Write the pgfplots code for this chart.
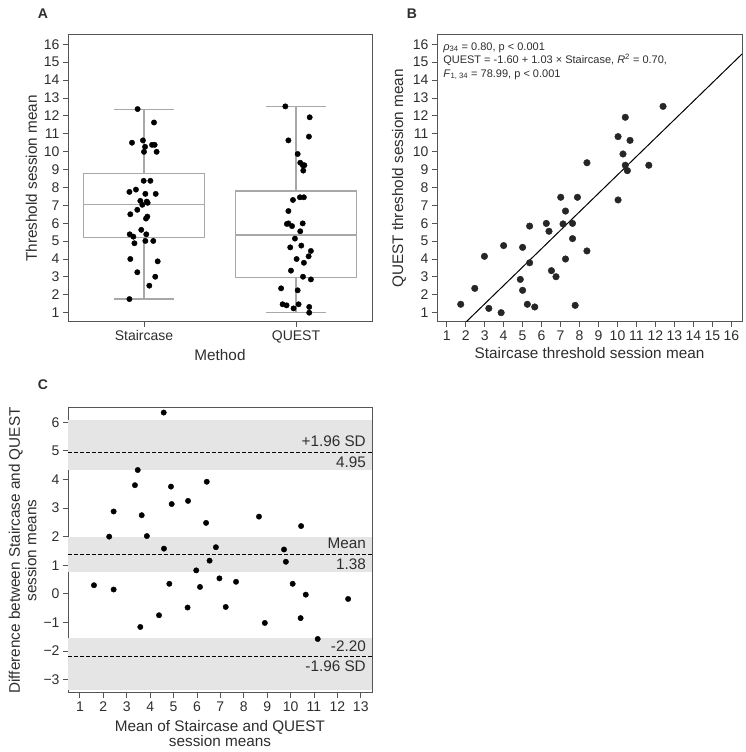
\documentclass[border=0pt]{standalone}
\usepackage{fontspec}
\setmainfont{Liberation Sans}
\usepackage{pgfplots}
\pgfplotsset{compat=1.18}
\usepgfplotslibrary{statistics}
\definecolor{txt}{HTML}{2E2E2E}
\definecolor{frm}{HTML}{555555}
\definecolor{boxg}{HTML}{A8A8A8}
\definecolor{band}{HTML}{E5E5E5}
\definecolor{ptc}{HTML}{262626}
\pgfplotsset{
  mystyle/.style={
    scale only axis,
    axis line style={draw=frm, line width=1pt},
    tick align=outside,
    major tick length=5pt,
    tick style={draw=frm, line width=0.9pt},
    xtick pos=left, ytick pos=left,
    ticklabel style={font=\fontsize{14}{16}\selectfont, text=txt},
    label style={font=\fontsize{15.3}{16.5}\selectfont, text=txt, align=center},
    /pgf/number format/assume math mode=true,
  }
}
\pgfplotstableread{
x y
-0.042 12.38
0.066 11.63
-0.079 10.50
-0.007 10.63
0.007 10.27
0.000 9.99
0.053 10.38
0.070 10.38
0.083 9.99
-0.002 8.37
0.042 8.37
-0.096 7.75
-0.053 7.88
0.009 7.64
0.077 7.64
-0.024 7.25
0.018 7.21
-0.011 7.03
0.024 7.14
-0.044 6.75
-0.090 6.50
0.022 6.37
0.013 6.26
-0.018 5.63
-0.094 5.38
-0.070 5.25
0.015 5.38
-0.063 4.88
0.009 5.01
0.061 5.01
-0.090 4.00
0.090 3.87
-0.044 3.26
0.074 3.01
0.035 2.51
-0.096 1.76
1.087 1.00
0.984 1.24
1.087 1.32
0.938 1.41
0.912 1.47
1.017 1.47
1.011 2.25
0.902 2.36
1.098 2.86
1.046 3.01
0.967 3.35
1.052 3.79
1.004 4.00
1.083 4.15
1.098 4.45
0.962 4.65
1.035 4.75
0.993 5.14
1.028 5.55
0.974 5.84
0.940 5.96
0.950 5.99
1.044 5.99
0.950 6.68
0.980 7.30
1.026 7.45
1.052 7.45
1.048 8.94
1.055 9.24
1.045 9.24
1.028 9.38
1.011 9.87
0.950 10.63
1.085 10.84
1.090 11.92
0.930 12.53
}\jitterdata
\pgfplotstableread{
s q
1.74 1.47
2.48 2.36
2.99 4.15
3.22 1.24
3.87 1.00
4.00 4.75
4.88 2.86
5.00 4.65
5.00 2.25
5.25 1.47
5.37 3.79
5.37 5.84
5.64 1.32
6.25 5.99
6.39 5.55
6.52 3.35
6.76 3.01
7.01 7.45
7.13 5.96
7.26 6.68
7.26 4.00
7.63 5.99
7.63 5.14
7.77 1.41
7.89 7.45
8.39 9.38
8.39 4.45
10.03 10.84
10.03 7.30
10.29 9.87
10.41 11.92
10.41 9.24
10.52 8.94
10.66 10.63
11.65 9.24
12.40 12.53
}\scatterdata
\pgfplotstableread{
m d
1.60 0.30
2.44 0.15
3.58 -1.16
2.25 2.00
2.44 2.88
4.38 -0.75
3.86 2.02
4.82 0.35
3.64 2.75
3.35 3.80
4.59 1.58
5.60 -0.48
3.47 4.33
6.13 0.24
5.97 0.82
4.92 3.14
4.89 3.75
7.23 -0.46
6.54 1.16
6.96 0.54
5.62 3.25
6.81 1.63
6.39 2.48
4.58 6.34
7.67 0.42
8.90 -1.02
6.42 3.92
10.43 -0.85
8.65 2.70
10.09 0.35
11.16 -1.58
9.80 1.12
9.72 1.55
10.65 -0.03
10.45 2.37
12.46 -0.18
}\badata
\begin{document}
\begin{tikzpicture}
\path[use as bounding box] (0,0) rectangle (746pt,752pt);
% Panel A
\begin{axis}[mystyle, at={(68pt,430pt)}, anchor=south west, width=304pt, height=287pt,
  xmin=-0.5, xmax=1.5, ymin=0.48, ymax=16.52,
  xtick={0,1}, xticklabels={Staircase,QUEST}, ytick={1,...,16},
  xlabel={Method}, ylabel={Threshold session mean},
  boxplot/draw direction=y]
\addplot[boxplot prepared={lower whisker=1.77, lower quartile=5.19, median=7.04,
  upper quartile=8.77, upper whisker=12.37, draw position=0, box extend=0.8, whisker extend=0.4},
  draw=boxg, solid, line width=1.3pt] coordinates {};
\addplot[boxplot prepared={lower whisker=1.00, lower quartile=2.98, median=5.34,
  upper quartile=7.80, upper whisker=12.51, draw position=1, box extend=0.8, whisker extend=0.4},
  draw=boxg, solid, line width=1.3pt] coordinates {};
\addplot[only marks, mark=*, mark size=2.7pt, black] table[x=x, y=y] {\jitterdata};
\end{axis}
% Panel B
\begin{axis}[mystyle, at={(437pt,430pt)}, anchor=south west, width=305pt, height=287pt,
  xmin=0.49, xmax=16.56, ymin=0.48, ymax=16.52,
  xtick={1,...,16}, ytick={1,...,16},
  xlabel={Staircase threshold session mean}, ylabel={QUEST threshold session mean}]
\addplot[black, line width=1pt] coordinates {(0.49,-1.0953) (16.56,15.4568)};
\addplot[only marks, mark=*, mark size=3.3pt, ptc] table[x=s, y=q] {\scatterdata};
\node[anchor=north west, align=left, text=txt, inner sep=0pt, font=\fontsize{11}{13.5}\selectfont]
  at (rel axis cs:0.02,0.975)
  {\textit{ρ}\textsubscript{34} = 0.80, p < 0.001\\
   QUEST = -1.60 + 1.03 × Staircase, \textit{R}\textsuperscript{2} = 0.70,\\
   \textit{F}\textsubscript{1, 34} = 78.99, p < 0.001};
\end{axis}
% Panel C
\begin{axis}[mystyle, at={(68pt,59pt)}, anchor=south west, width=304pt, height=285pt,
  xmin=0.49, xmax=13.48, ymin=-3.47, ymax=6.5,
  xtick={1,...,13}, ytick={-3,...,6},
  yticklabels={−3,−2,−1,0,1,2,3,4,5,6},
  xlabel={Mean of Staircase and QUEST\\session means},
  xlabel style={yshift=-2pt, font=\fontsize{15.3}{15}\selectfont},
  ylabel={Difference between Staircase and QUEST\\session means}]
\addplot[fill=band, draw=none] coordinates {(0.49,4.32) (13.48,4.32) (13.48,6.09) (0.49,6.09)} -- cycle;
\addplot[fill=band, draw=none] coordinates {(0.49,0.78) (13.48,0.78) (13.48,1.97) (0.49,1.97)} -- cycle;
\addplot[fill=band, draw=none] coordinates {(0.49,-3.36) (13.48,-3.36) (13.48,-1.55) (0.49,-1.55)} -- cycle;
\addplot[black, dash pattern=on 4pt off 2pt, line width=1.1pt] coordinates {(0.49,4.95) (13.48,4.95)};
\addplot[black, dash pattern=on 4pt off 2pt, line width=1.1pt] coordinates {(0.49,1.38) (13.48,1.38)};
\addplot[black, dash pattern=on 4pt off 2pt, line width=1.1pt] coordinates {(0.49,-2.20) (13.48,-2.20)};
\addplot[only marks, mark=*, mark size=2.7pt, black] table[x=m, y=d] {\badata};
\begin{scope}[every node/.style={anchor=base east, text=txt, inner sep=0pt, font=\fontsize{15.3}{16}\selectfont}]
\node[xshift=-6pt, yshift=5.5pt] at (axis cs:13.48,4.95) {+1.96 SD};
\node[xshift=-6pt, yshift=-15pt] at (axis cs:13.48,4.95) {4.95};
\node[xshift=-6pt, yshift=5.5pt] at (axis cs:13.48,1.38) {Mean};
\node[xshift=-6pt, yshift=-15pt] at (axis cs:13.48,1.38) {1.38};
\node[xshift=-6pt, yshift=5.5pt] at (axis cs:13.48,-2.20) {-2.20};
\node[xshift=-6pt, yshift=-15pt] at (axis cs:13.48,-2.20) {-1.96 SD};
\end{scope}
\end{axis}
\node[font=\bfseries\fontsize{14}{16}\selectfont, text=txt] at (43pt,738pt) {A};
\node[font=\bfseries\fontsize{14}{16}\selectfont, text=txt] at (412pt,738pt) {B};
\node[font=\bfseries\fontsize{14}{16}\selectfont, text=txt] at (43pt,367pt) {C};
\end{tikzpicture}
\end{document}
